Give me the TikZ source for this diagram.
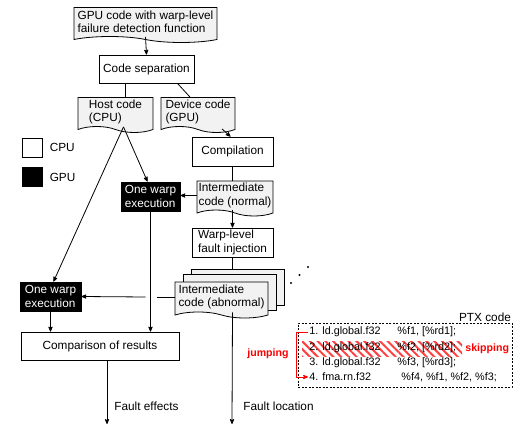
\documentclass[tikz,border=0pt]{standalone}
\usepackage{fontspec}
\setmainfont{Liberation Sans}
\usetikzlibrary{arrows,positioning,shapes,calc,patterns.meta}
\definecolor{docgray}{HTML}{F2F2F2}

\begin{document}
\begin{tikzpicture}[
      x=1pt,y=-1pt,
      >=stealth',
      line width=0.8pt,
      font=\fontsize{11.8}{13.4}\selectfont,
      proc/.style={draw,fill=white,align=left,inner sep=0,minimum height=29},
      doc/.style={draw,fill=docgray,tape,tape bend top=none,tape bend bottom=out and in,
                  tape bend height=6,align=left,inner sep=0,minimum height=35},
      layer/.style={draw,fill=docgray,inner sep=0,minimum width=93,minimum height=36},
      warp/.style={draw,fill=black,text=white,align=left,inner sep=0,minimum height=29},
      legbox/.style={draw,inner sep=0,minimum width=20,minimum height=19},
      ptxline/.style={inner sep=1,anchor=west,font=\fontsize{10.8}{12}\selectfont},
      redlabel/.style={text=red,font=\fontsize{10.6}{12}\selectfont\bfseries,inner sep=1}
    ]
    \useasboundingbox (0,0) rectangle (520,428);

    % flow on the left
    \node[doc,minimum width=143] (gpucode) at (145.5,22) {GPU code with warp-level\\failure detection function};
    \node[proc,minimum width=95,minimum height=28] (sep) at (146.5,69) {Code separation};
    \node[doc,minimum width=75] (host) at (115.5,112) {Host code\\(CPU)};
    \node[doc,minimum width=74] (device) at (198,112) {Device code\\(GPU)};
    \node[proc,minimum width=81] (compile) at (232.5,151.5) {Compilation};
    \node[doc,minimum width=76] (irnormal) at (235,195.5) {Intermediate\\code (normal)};
    \node[proc,minimum width=81] (inject) at (232.5,242.5) {Warp-level\\fault injection};
    \node[layer] (irabnC) at (237.5,287) {};
    \node[layer] (irabnB) at (229.5,292) {};
    \node[doc,minimum width=93,minimum height=36] (irabn) at (221.5,297) {Intermediate\\code (abnormal)};
    \node[warp,minimum width=59] (warpA) at (150.5,196.5) {One warp\\execution};
    \node[warp,minimum width=61] (warpB) at (50.5,296.5) {One warp\\execution};
    \node[proc,minimum width=158,minimum height=28] (compare) at (100,346) {Comparison of results};
    \coordinate (effend) at (107,424);
    \coordinate (locend) at (232,424);
    \node[anchor=west,inner sep=0] (effects) at (114,406) {Fault effects};
    \node[anchor=west,inner sep=0] (location) at (243,406) {Fault location};

    % legend
    \node[legbox,fill=white] (legcpu) at (32,147.5) {};
    \node[legbox,fill=black] (leggpu) at (32,177) {};
    \node[inner sep=0,right=7pt of legcpu] (legcputxt) {CPU};
    \node[inner sep=0,right=7pt of leggpu] (leggputxt) {GPU};

    % connectors
    \draw[->] (gpucode.south) -- (sep.north);
    \draw ([xshift=-21]sep.south) -- ([xshift=-21]sep.south |- host.north);
    \draw ([xshift=31]sep.south) -- ([xshift=-8]device.north);
    \draw[->] ([xshift=24,yshift=-2]device.south) -- ([xshift=-2]compile.north);
    \draw (compile.south) -- (compile.south |- irnormal.north);
    \draw[->] (irnormal.south -| compile) -- (inject.north);
    \draw (inject.south) -- (inject.south |- irabnC.north);
    \draw[->] (irabn.south -| inject) -- (locend);
    \draw[->] (irnormal.west) -- (irnormal.west -| warpA.east);
    \draw[->] ([xshift=8]host.south) -- ([xshift=-3]warpA.north);
    \draw[->] ([xshift=8]host.south) -- ([xshift=3]warpB.north);
    \draw[->] (warpA.south) -- (warpA.south |- compare.north);
    \draw (irabn.west) -- ([xshift=6]warpA.south |- irabn.west);
    \draw[->] ([xshift=-5]warpA.south |- irabn.west) -- (warpB.east);
    \draw[->] (warpB.south) -- (warpB.south |- compare.north);
    \draw[->] ([xshift=7]compare.south) -- (effend);
    \fill (291,283) circle (1.2) (299.5,275) circle (1.2) (308,267) circle (1.2);

    % PTX code
    \node[draw,dash pattern=on 2pt off 1.5pt,line width=0.6pt,minimum width=214,minimum height=64,inner sep=0] (ptxbox) at (405,355) {};
    \node[anchor=south east,inner sep=1] (ptxtitle) at (ptxbox.north east) {PTX code};
    \fill[pattern={Lines[angle=-45,distance=5.5pt,line width=2pt]},pattern color=red!75] (302,341) rectangle (462,356);
    \node[ptxline] (op1) at (308,332) {1. ld.global.f32};
    \node[ptxline] (arg1) at (396,332) {\%f1, [\%rd1];};
    \node[ptxline] (op2) at (308,348) {2. ld.global.f32};
    \node[ptxline] (arg2) at (396,348) {\%f2, [\%rd2];};
    \node[ptxline] (op3) at (308,363) {3. ld.global.f32};
    \node[ptxline] (arg3) at (396,363) {\%f3, [\%rd3];};
    \node[ptxline] (op4) at (308,377) {4. fma.rn.f32};
    \node[ptxline] (arg4) at (400,377) {\%f4, \%f1, \%f2, \%f3;};
    \draw[red,->] (op1.west) -- ++(-12,0) |- (op4.west);
    \node[redlabel,anchor=east] (jump) at (290,354) {jumping};
    \node[redlabel,anchor=west] (skip) at (464,349) {skipping};
\end{tikzpicture}
\end{document}
